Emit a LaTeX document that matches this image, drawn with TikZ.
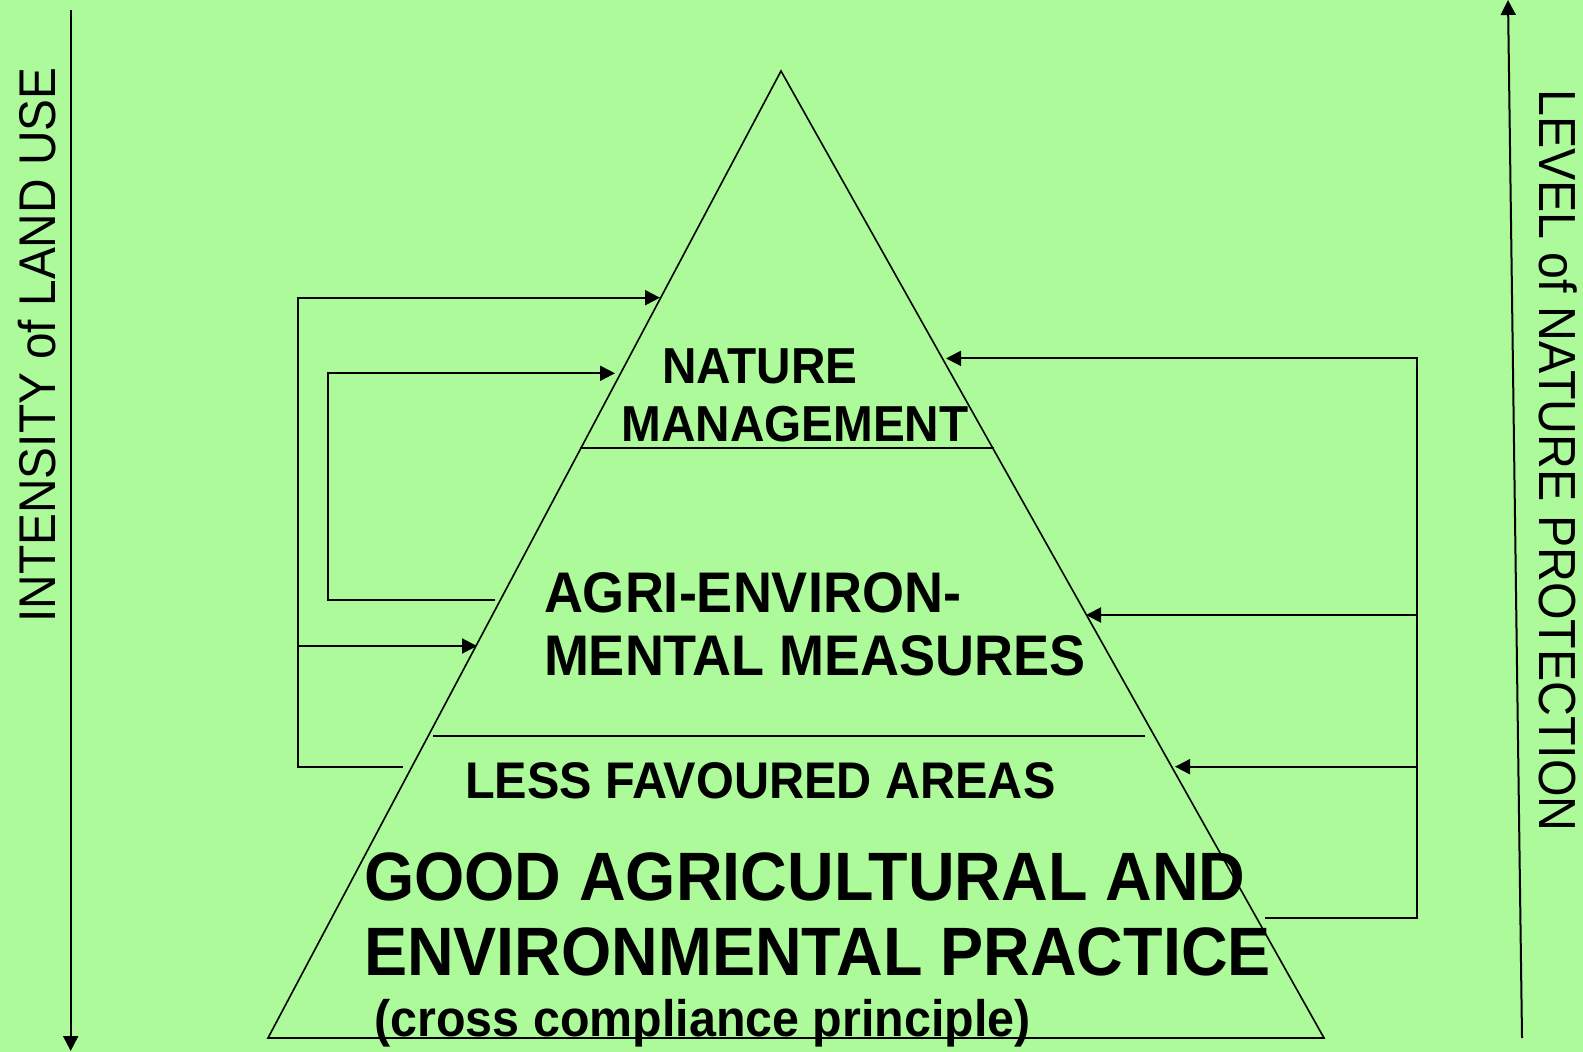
\documentclass[tikz,border=0pt]{standalone}
\usepackage{fontspec}
\setmainfont{Liberation Sans}
\usetikzlibrary{arrows.meta}
\definecolor{bggreen}{RGB}{172,250,154}
\tikzset{
  conn/.style={line width=1pt, draw=black},
  arr/.style={conn, -{Triangle[length=7.5pt,width=7.5pt]}},
  edge/.style={line width=0.8pt, draw=black},
  lbl/.style={inner sep=0pt, outer sep=0pt, font=\bfseries},
}
\newcommand\vstr[1]{\scalebox{1}[1.06]{#1}}
\begin{document}
\begin{tikzpicture}[x=0.5pt,y=-0.5pt]
\useasboundingbox (0,0) rectangle (1583,1052);
\fill[bggreen] (0,0) rectangle (1583,1052);

% triangle
\coordinate (apex) at (781,71);
\coordinate (bl) at (268,1038);
\coordinate (br) at (1324,1038);
\draw[edge, line join=miter] (bl) -- (apex) -- (br) -- cycle;

% dividers
\coordinate (d1l) at (580,448);
\coordinate (d1r) at (994,448);
\coordinate (d2l) at (433,736);
\coordinate (d2r) at (1145,736);
\draw[edge] (d1l) -- (d1r);
\draw[edge] (d2l) -- (d2r);

% long side arrows
\coordinate (la1) at (70.7,10);
\coordinate (la2) at (70.7,1051);
\draw[arr] (la1) -- (la2);
\coordinate (ra1) at (1522,1038);
\coordinate (ra2) at (1508,0);
\draw[arr] (ra1) -- (ra2);

% left connectors
\coordinate (o1) at (403,766.7);
\coordinate (o2) at (297.5,766.7);
\coordinate (o3) at (297.5,297.7);
\coordinate (o4) at (660,297.7);
\draw[arr] (o1) -- (o2) -- (o3) -- (o4);
\coordinate (m1) at (297.5,646);
\coordinate (m2) at (477,646);
\draw[arr] (m1) -- (m2);
\coordinate (i1) at (495,600);
\coordinate (i2) at (328.3,600);
\coordinate (i3) at (328.3,373.3);
\coordinate (i4) at (615,373.3);
\draw[arr] (i1) -- (i2) -- (i3) -- (i4);

% right connectors
\coordinate (r1) at (1265,917.7);
\coordinate (r2) at (1416.6,917.7);
\coordinate (r3) at (1416.6,358.4);
\coordinate (r4) at (946,358.4);
\draw[arr] (r1) -- (r2) -- (r3) -- (r4);
\coordinate (s1) at (1416.6,615);
\coordinate (s2) at (1086,615);
\draw[arr] (s1) -- (s2);
\coordinate (t1) at (1416.6,766.7);
\coordinate (t2) at (1175,766.7);
\draw[arr] (t1) -- (t2);

% texts
\node[lbl, font=\bfseries\fontsize{23.85}{28}\selectfont, anchor=base] (nat) at (760,384) {\vstr{NATURE}};
\node[lbl, font=\bfseries\fontsize{23.85}{28}\selectfont, anchor=base] (man) at (795,441.7) {\vstr{MANAGEMENT}};
\node[lbl, font=\bfseries\fontsize{27}{32}\selectfont, anchor=base west] (agr) at (544,612.8) {\vstr{AGRI-ENVIRON-}};
\node[lbl, font=\bfseries\fontsize{27}{32}\selectfont, anchor=base west] (men) at (544,675.5) {\vstr{MENTAL MEASURES}};
\node[lbl, font=\bfseries\fontsize{24.3}{28}\selectfont, anchor=base west] (lfa) at (465,798.6) {\vstr{LESS FAVOURED AREAS}};
\node[lbl, font=\bfseries\fontsize{32.3}{38}\selectfont, anchor=base west] (gaa) at (364,900.5) {\vstr{GOOD AGRICULTURAL AND}};
\node[lbl, font=\bfseries\fontsize{32.3}{38}\selectfont, anchor=base west] (env) at (364,975) {\vstr{ENVIRONMENTAL PRACTICE}};
\node[lbl, font=\bfseries\fontsize{24.2}{28}\selectfont, anchor=base west] (ccp) at (374.5,1036) {\vstr{(cross compliance principle)}};

\node[inner sep=0pt, outer sep=0pt, font=\fontsize{23.9}{28}\selectfont, rotate=90, anchor=base] (int) at (55.5,345) {\scalebox{1}[1.08]{INTENSITY of LAND USE}};
\node[inner sep=0pt, outer sep=0pt, font=\fontsize{24.15}{28}\selectfont, rotate=-90, anchor=base] (lev) at (1539.6,460.5) {\scalebox{1}[1.08]{LEVEL of NATURE PROTECTION}};
\end{tikzpicture}
\end{document}
